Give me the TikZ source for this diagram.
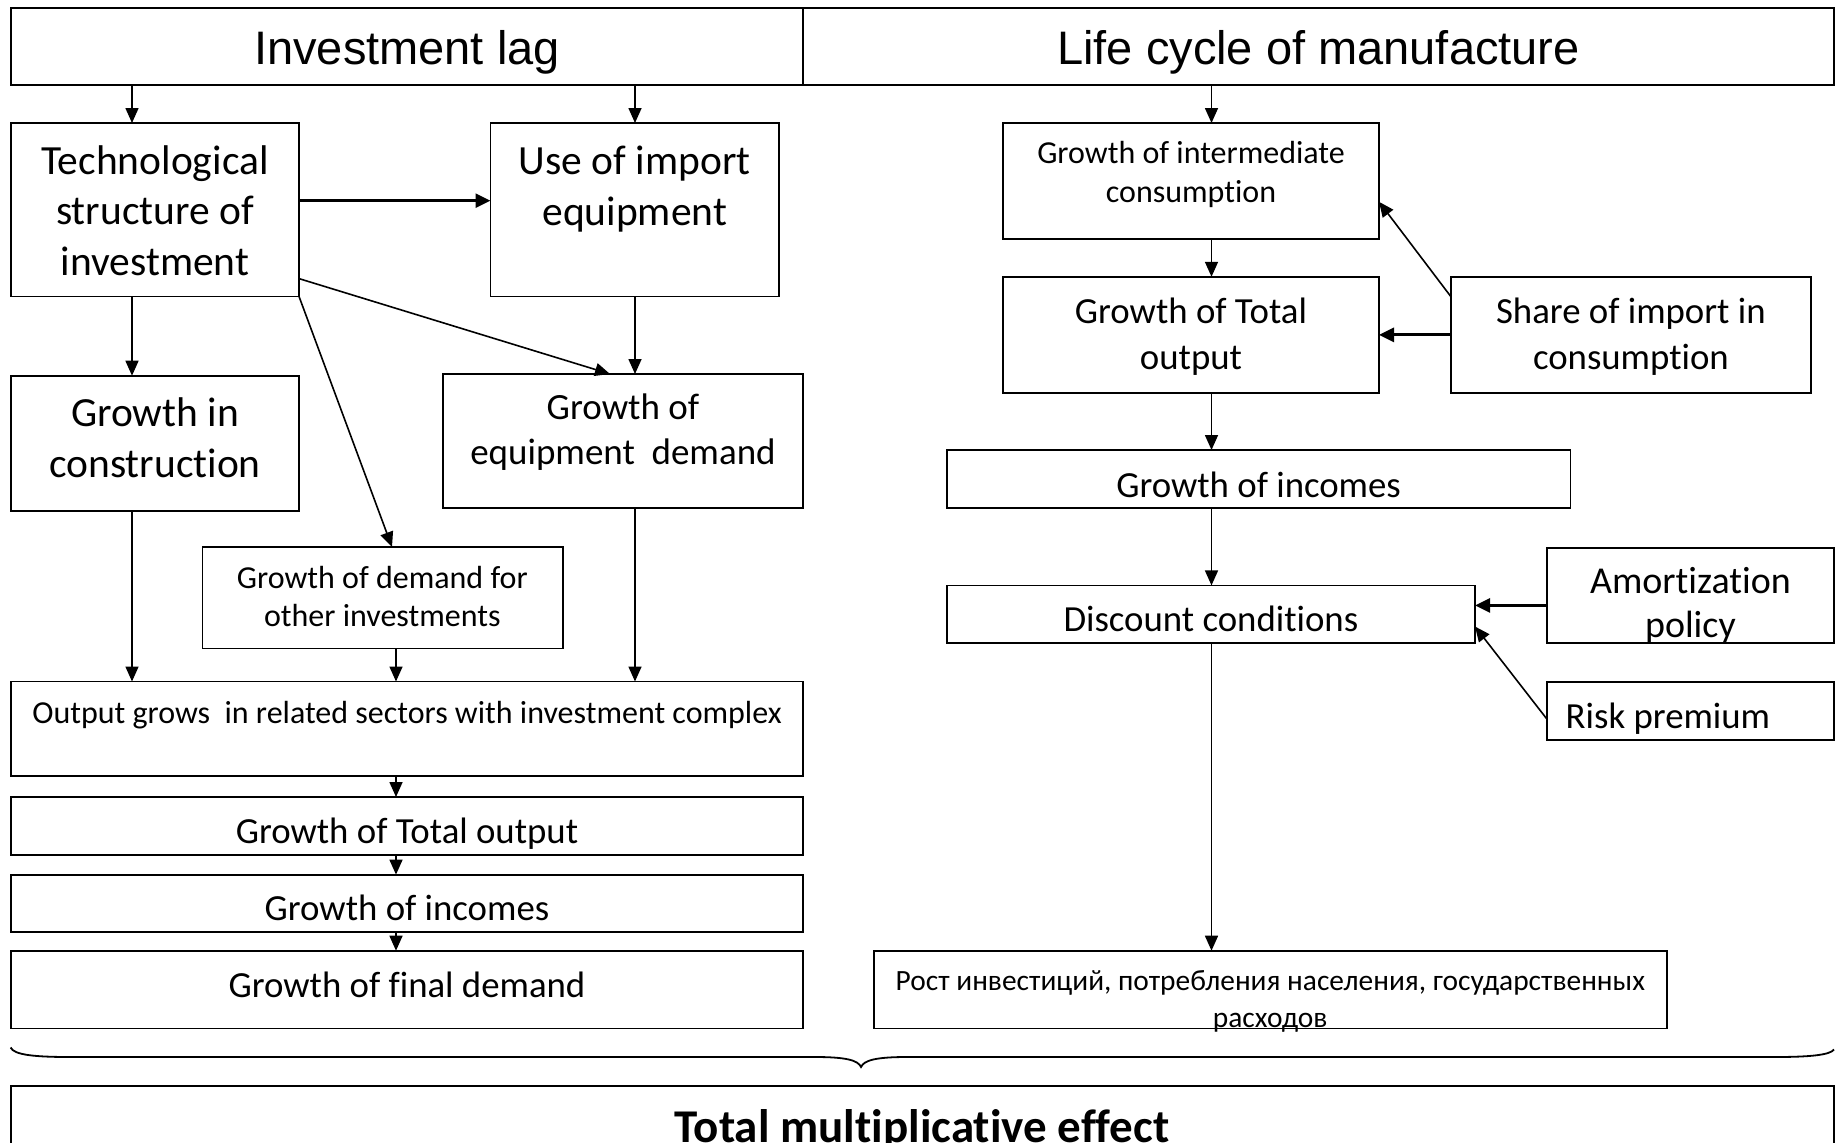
\documentclass[tikz,border=0pt]{standalone}
\usepackage{fontspec}
\setmainfont{Carlito}[Ligatures=NoCommon]
\newfontfamily\arialf{Liberation Sans}
\usetikzlibrary{arrows.meta,calc}
\newcommand\mybox[5]{%
  \pgfmathsetmacro\bw{#4-#2}\pgfmathsetmacro\bh{#5-#3}%
  \node[boxst,minimum width=\bw pt,minimum height=\bh pt,anchor=north west] (#1) at (#2,#3) {};}
\begin{document}
\begin{tikzpicture}[x=1pt,y=-1pt,
  boxst/.style={draw,line width=1.8pt,inner sep=0pt,outer sep=0pt,rectangle},
  txt/.style={inner sep=0pt,align=center},
  arr/.style={line width=1.6pt,-{Triangle[length=15pt,width=13pt]}},
  arrthick/.style={line width=2.8pt,-{Triangle[length=15pt,width=14pt]}},
  fH/.style={font=\arialf\fontsize{47}{56}\selectfont},
  fA/.style={font=\fontsize{41.5}{50.6}\selectfont},
  fB/.style={font=\fontsize{37}{45.5}\selectfont},
  fC/.style={font=\fontsize{36.8}{46}\selectfont},
  fD/.style={font=\fontsize{32}{38.8}\selectfont},
  fE/.style={font=\fontsize{29.4}{36.5}\selectfont},
  fT/.style={font=\bfseries\fontsize{47}{56}\selectfont}]
\useasboundingbox (0,0) rectangle (1839,1143);
\clip (0,0) rectangle (1839,1143);
\fill[white] (0,0) rectangle (1839,1143);
% column coordinates
\coordinate (cA) at (132,0);
\coordinate (cB) at (396,0);
\coordinate (cC) at (635,0);
\coordinate (cR) at (1211.5,0);
\coordinate (yT) at (0,200.7);
\coordinate (yA) at (0,605.4);
% boxes
\mybox{hdrL}{10.6}{7.9}{803}{84.6}
\mybox{hdrR}{803}{7.9}{1834}{84.6}
\mybox{tech}{10.6}{123}{299}{296.4}
\mybox{imp}{490.5}{123}{779}{296.4}
\mybox{constr}{10.6}{375.7}{299}{510.7}
\mybox{equip}{443}{374}{803}{508}
\mybox{other}{202.4}{547}{563.3}{648.4}
\mybox{out}{10.6}{681.5}{803}{775.7}
\mybox{totL}{10.6}{797}{803}{855.3}
\mybox{incL}{10.6}{874.6}{803}{932.3}
\mybox{fin}{10.6}{950.7}{803}{1028.4}
\mybox{inter}{1003}{123}{1379}{238.6}
\mybox{totR}{1003}{276.8}{1379}{392.9}
\mybox{share}{1450.7}{276.8}{1811}{392.9}
\mybox{incR}{946.8}{450}{1570.5}{508.2}
\mybox{disc}{946.8}{585.4}{1475}{643}
\mybox{amort}{1546.8}{547.7}{1834}{643}
\mybox{risk}{1546.8}{682.3}{1834}{740}
\mybox{rost}{873.7}{950.7}{1666.7}{1028.4}
\mybox{total}{10.6}{1085.7}{1834}{1175}
% texts
\node[txt,fH,anchor=base] (hdrLT) at (407,64.5) {Investment lag};
\node[txt,fH,anchor=base] (hdrRT) at (1318.5,64.5) {Life cycle of manufacture};
\node[txt,fA] (techT) at (155,210.7) {Technological\\structure of\\investment};
\node[txt,fA] (impT) at (634.7,188.8) {Use of import\\equipment};
\node[txt,fA] (constrT) at (155,438) {Growth in\\construction};
\node[txt,fB] (equipT) at (623,432.1) {Growth of\\equipment~ demand};
\node[txt,fD] (otherT) at (382.3,596.5) {Growth of demand for\\other investments};
\node[txt,fD] (outT) at (407,715) {Output grows~ in related sectors with investment complex};
\node[txt,fC] (totLT) at (407,833.3) {Growth of Total output};
\node[txt,fC] (incLT) at (407,907.6) {Growth of incomes};
\node[txt,fC] (finT) at (407,985) {Growth of final demand};
\node[txt,fD] (interT) at (1191,174.3) {Growth of intermediate\\consumption};
\node[txt,fC] (totRT) at (1191,336.5) {Growth of Total\\output};
\node[txt,fC] (shareT) at (1630.9,336.5) {Share of import in\\consumption};
\node[txt,fC] (incRT) at (1258.6,485) {Growth of incomes};
\node[txt,fC] (discT) at (1210.9,618.8) {Discount conditions};
\node[txt,font=\fontsize{38}{44.6}\selectfont] (amortT) at (1690.4,605.5) {Amortization\\policy};
\node[txt,fC,anchor=west] (riskT) at (1565.5,718.5) {Risk premium};
\node[txt,fE] (rostT) at (1270.2,1001.6) {Рост инвестиций, потребления населения, государственных\\расходов};
\node[txt,fT,anchor=base] (totalT) at (922,1142) {Total multiplicative effect};
% connectors left
\draw[arr] (hdrL.south -| cA) -- (tech.north -| cA);
\draw[arr] (hdrL.south -| cC) -- (imp.north -| cC);
\draw[arrthick] (tech.east |- yT) -- (imp.west |- yT);
\draw[arr] (tech.south -| cA) -- (constr.north -| cA);
\draw[arr] ([yshift=17.8pt]tech.south east) -- ([xshift=167pt]equip.north west);
\draw[arr] (tech.south east) -- ([xshift=189.6pt]other.north west);
\draw[arr] (imp.south -| cC) -- (equip.north -| cC);
\draw[arr] (constr.south -| cA) -- (out.north -| cA);
\draw[arr] (other.south -| cB) -- (out.north -| cB);
\draw[arr] (equip.south -| cC) -- (out.north -| cC);
\draw[arr] (out.south -| cB) -- (totL.north -| cB);
\draw[arr] (totL.south -| cB) -- (incL.north -| cB);
\draw[arr] (incL.south -| cB) -- (fin.north -| cB);
% connectors right
\draw[arr] (hdrR.south -| cR) -- (inter.north -| cR);
\draw[arr] (inter.south -| cR) -- (totR.north -| cR);
\draw[arrthick] (share.west) -- (totR.east);
\draw[arr] ([yshift=-19.6pt]share.north west) -- ([yshift=-78.8pt]inter.north east);
\draw[arr] (totR.south -| cR) -- (incR.north -| cR);
\draw[arr] (incR.south -| cR) -- (disc.north -| cR);
\draw[arrthick] (amort.west |- yA) -- (disc.east |- yA);
\draw[arr] ([yshift=-7.8pt]risk.west) -- ([yshift=16.5pt]disc.south east);
\draw[arr] (disc.south -| cR) -- (rost.north -| cR);
% brace
\draw[line width=1.8pt] (10.6,1047.5) .. controls (14,1055) and (35,1057) .. (70,1057)
  -- (815,1057) .. controls (845,1057) and (858,1060) .. (861,1067)
  .. controls (864,1060) and (877,1057) .. (907,1057)
  -- (1775,1057) .. controls (1810,1057) and (1830,1055) .. (1834,1049.5);
\end{tikzpicture}
\end{document}
